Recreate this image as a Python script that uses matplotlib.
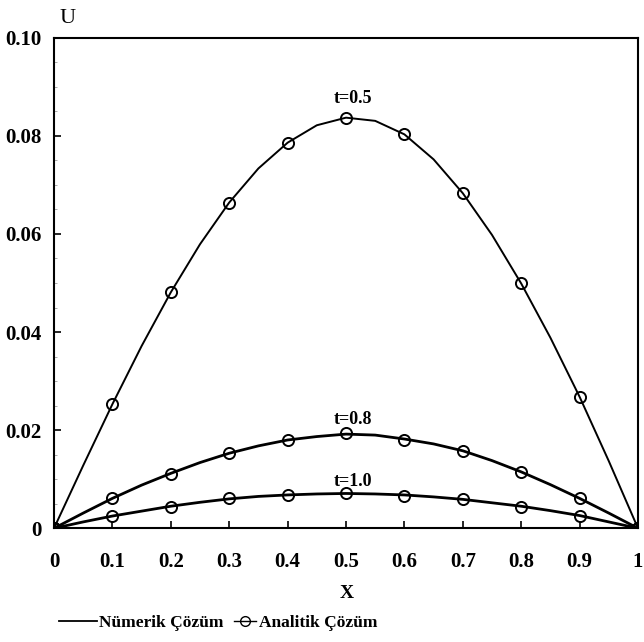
import numpy as np
import matplotlib
matplotlib.use("Agg")
import matplotlib.pyplot as plt
from matplotlib.lines import Line2D
from matplotlib.ticker import MultipleLocator

# analytic solution, read at the circle markers
x_an = [0.0, 0.1, 0.2, 0.3, 0.4, 0.5, 0.6, 0.7, 0.8, 0.9, 1.0]
u_an_05 = [0.0, 0.0253, 0.0481, 0.0664, 0.0786, 0.0837, 0.0803, 0.0683, 0.0499, 0.0268, 0.0]
u_an_08 = [0.0, 0.0061, 0.0110, 0.0154, 0.0180, 0.0194, 0.0180, 0.0158, 0.0114, 0.0061, 0.0]
u_an_10 = [0.0, 0.0025, 0.0044, 0.0061, 0.0068, 0.0071, 0.0066, 0.0060, 0.0044, 0.0026, 0.0]

# numerical solution
x_num = [0.0, 0.05, 0.1, 0.15, 0.2, 0.25, 0.3, 0.35, 0.4, 0.45, 0.5,
         0.55, 0.6, 0.65, 0.7, 0.75, 0.8, 0.85, 0.9, 0.95, 1.0]
u_num_05 = [0.0, 0.0128, 0.0253, 0.03715, 0.0481, 0.0579, 0.0664, 0.07335, 0.0786, 0.08215, 0.0837,
            0.08305, 0.0803, 0.0752, 0.0683, 0.0598, 0.0499, 0.03885, 0.0268, 0.0137, 0.0]
u_num_08 = [0.0, 0.0031, 0.0061, 0.0088, 0.0112, 0.0134, 0.0153, 0.0168, 0.0180, 0.0187, 0.0192,
            0.0190, 0.0182, 0.0172, 0.0158, 0.0138, 0.0115, 0.0089, 0.0061, 0.0031, 0.0]
u_num_10 = [0.0, 0.0013, 0.0025, 0.0035, 0.0045, 0.0053, 0.0060, 0.0065, 0.0068, 0.0070, 0.0071,
            0.0070, 0.0068, 0.0064, 0.0059, 0.0052, 0.0045, 0.0036, 0.0026, 0.0013, 0.0]

curve_labels = ["t=0.5", "t=0.8", "t=1.0"]
label_pos = [(0.512, 0.0876), (0.512, 0.0221), (0.512, 0.0096)]

plt.rcParams["font.family"] = ["Liberation Serif", "DejaVu Serif"]

fig = plt.figure(figsize=(6.44, 6.42), dpi=100)
ax = fig.add_axes([54 / 644, 1 - 528.3 / 642, 584 / 644, 490.6 / 642])

for un, ua, lw in ((u_num_05, u_an_05, 1.4), (u_num_08, u_an_08, 2.0), (u_num_10, u_an_10, 2.0)):
    ax.plot(x_num, un, color="black", lw=lw, solid_joinstyle="round")
    ax.plot(x_an, ua, ls="none", marker="o", ms=8,
            mfc="none", mec="black", mew=1.4)

for lab, (lx, ly) in zip(curve_labels, label_pos):
    ax.text(lx, ly, lab, ha="center", va="center", fontsize=13, fontweight="bold")

ax.set_xlim(0, 1)
ax.set_ylim(0, 0.10)
ax.set_xticks(x_an)
ax.set_xticklabels(["0", "0.1", "0.2", "0.3", "0.4", "0.5", "0.6", "0.7", "0.8", "0.9", "1"])
ax.set_yticks([0, 0.02, 0.04, 0.06, 0.08, 0.10])
ax.set_yticklabels(["0", "0.02", "0.04", "0.06", "0.08", "0.10"])
ax.yaxis.set_minor_locator(MultipleLocator(0.005))
ax.tick_params(axis="both", which="major", direction="in", length=5, width=1.2,
               labelsize=15)
ax.tick_params(axis="x", pad=17)
ax.tick_params(axis="y", pad=9)
ax.tick_params(axis="y", which="minor", direction="in", length=2, width=0.5, color="#888888")
ax.tick_params(axis="x", which="both", top=False)
ax.tick_params(axis="y", which="both", right=False)
for t in ax.get_xticklabels() + ax.get_yticklabels():
    t.set_fontweight("bold")
for s in ax.spines.values():
    s.set_linewidth(1.5)

ax.text(0.024, 1.04, "U", transform=ax.transAxes, ha="center", va="center", fontsize=16)
fig.text(347 / 644, 1 - 593 / 642, "X", ha="center", va="center", fontsize=14,
         fontweight="bold")

leg_font = {"family": "Liberation Serif", "weight": "bold", "size": 12.5}
h_num = Line2D([], [], color="black", lw=1.3)
h_an = Line2D([], [], color="black", lw=1.0, marker="o", ms=7, mfc="none", mec="black")
fig.legend([h_num], ["Nümerik Çözüm"], loc="center left",
           bbox_to_anchor=(50 / 644, 19 / 642), frameon=False, borderpad=0,
           handlelength=2.2, handletextpad=0.15, prop=leg_font)
fig.legend([h_an], ["Analitik Çözüm"], loc="center left",
           bbox_to_anchor=(225 / 644, 19 / 642), frameon=False, borderpad=0,
           handlelength=1.3, handletextpad=0.15, prop=leg_font)

fig.savefig("out.png", dpi=100)
